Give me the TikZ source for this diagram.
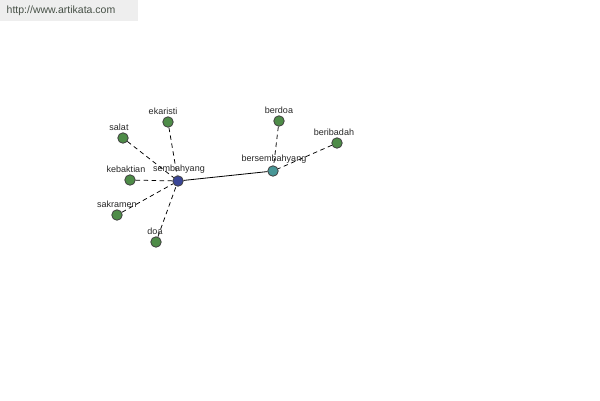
\documentclass[tikz,border=0pt]{standalone}
\usepackage{fontspec}
\setmainfont{Liberation Sans}
\usetikzlibrary{positioning}
\definecolor{leafgreen}{RGB}{78,140,72}
\definecolor{hubblue}{RGB}{58,70,150}
\definecolor{hubteal}{RGB}{72,150,150}
\definecolor{markgray}{RGB}{238,238,238}
\definecolor{marktext}{RGB}{70,80,70}
\tikzset{
  dot/.style={circle, draw=black!75, line width=0.8pt, minimum size=10.5pt, inner sep=0pt},
  leaf/.style={dot, fill=leafgreen},
  lbl/.style={inner sep=0pt, font=\fontsize{9}{10}\selectfont, text=black!85},
  link/.style={line width=0.75pt, dash pattern=on 4.5pt off 3.5pt}
}

\begin{document}
\begin{tikzpicture}[x=1pt, y=-1pt]
\useasboundingbox (0,0) rectangle (600,400);
\fill[markgray] (0,0) rectangle (138,21);
\node[text=marktext, font=\fontsize{10.5}{11}\selectfont] (mark) at (61,11) {http://www.artikata.com};

\node [dot, fill=hubblue] (sembahyang) at (178,181) {};
\node [dot, fill=hubteal] (bersembahyang) at (273,171) {};
\node [leaf] (berdoa) at (279,121) {};
\node [leaf] (beribadah) at (337,143) {};
\node [leaf] (ekaristi) at (168,122) {};
\node [leaf] (salat) at (123,138) {};
\node [leaf] (kebaktian) at (130,180) {};
\node [leaf] (sakramen) at (117,215) {};
\node [leaf] (doa) at (156,242) {};

\draw [line width=0.8pt] (sembahyang) -- (bersembahyang);
\draw [link] (ekaristi) -- (sembahyang);
\draw [link] (salat) -- (sembahyang);
\draw [link] (kebaktian) -- (sembahyang);
\draw [link] (sakramen) -- (sembahyang);
\draw [link] (doa) -- (sembahyang);
\draw [link] (berdoa) -- (bersembahyang);
\draw [link] (beribadah) -- (bersembahyang);

\node [lbl, above=1.5pt of sembahyang, xshift=1pt] {sembahyang};
\node [lbl, above=1.5pt of bersembahyang, xshift=1pt] {bersembahyang};
\node [lbl, above=1.5pt of berdoa] {berdoa};
\node [lbl, above=1.5pt of beribadah, xshift=-3pt] {beribadah};
\node [lbl, above=1.5pt of ekaristi, xshift=-5pt] {ekaristi};
\node [lbl, above=1.5pt of salat, xshift=-4pt] {salat};
\node [lbl, above=1.5pt of kebaktian, xshift=-4pt] {kebaktian};
\node [lbl, above=1.5pt of sakramen] {sakramen};
\node [lbl, above=1.5pt of doa, xshift=-1pt] {doa};
\end{tikzpicture}
\end{document}
